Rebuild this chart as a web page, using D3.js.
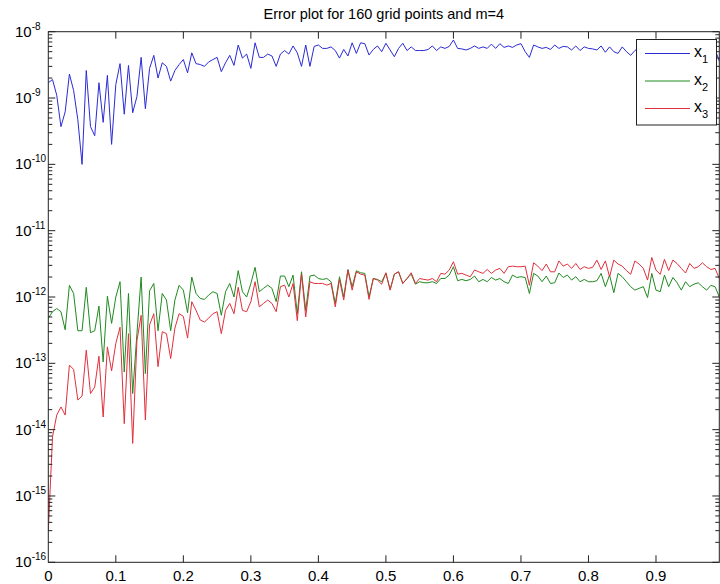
<!DOCTYPE html>
<html>
<head>
<meta charset="utf-8">
<script src="https://cdn.jsdelivr.net/npm/d3@7/dist/d3.min.js"></script>
<style>
  body { margin: 0; background: #fff; }
  text { font-family: "Liberation Sans", Arial, Helvetica, sans-serif; fill: #000; }
</style>
</head>
<body>
<div id="chart"></div>
<script>
const chart_title = "Error plot for 160 grid points and m=4";
const grid_points = 160;

const x_ticks = [0, 0.1, 0.2, 0.3, 0.4, 0.5, 0.6, 0.7, 0.8, 0.9];
const x_tick_labels = ["0", "0.1", "0.2", "0.3", "0.4", "0.5", "0.6", "0.7", "0.8", "0.9"];
const y_exponents = [-16, -15, -14, -13, -12, -11, -10, -9, -8];

const legend_names = ["1", "2", "3"];
const legend_colors = ["#2a2ad6", "#1f8a1f", "#e0303c"];

// error of x1, in units of 1e-9
const x1_err = [
  1.7, 1.9, 1.1, 0.37, 0.62, 2.3, 1.3, 0.47, 0.10, 2.6,
  0.37, 0.27, 1.7, 0.43, 2.2, 0.20, 1.6, 3.3, 0.57, 3.1,
  0.60, 1.05, 4.1, 0.69, 2.8, 4.4, 2.0, 3.4, 3.0, 1.8,
  2.6, 3.2, 3.8, 2.4, 4.8, 3.3, 3.2, 3.0, 3.5, 3.8,
  4.1, 2.5, 3.4, 4.4, 3.1, 6.3, 4.0, 4.6, 2.8, 6.8,
  4.1, 4.1, 4.6, 4.3, 3.0, 4.6, 5.2, 4.6, 6.1, 4.8,
  3.0, 6.3, 3.0, 6.0, 6.3, 5.6, 5.6, 5.9, 5.2, 4.0,
  5.4, 4.3, 6.8, 4.7, 6.8, 6.6, 4.45, 5.4, 6.1, 5.0,
  6.7, 5.3, 4.2, 5.6, 6.7, 5.2, 5.9, 5.2, 5.2, 5.2,
  5.4, 6.1, 5.2, 5.9, 5.6, 6.0, 7.5, 5.6, 5.5, 5.3,
  5.6, 6.1, 5.6, 5.9, 5.6, 6.5, 5.6, 6.6, 5.8, 6.1,
  5.8, 6.3, 6.6, 5.0, 4.1, 6.3, 5.9, 5.6, 5.8, 5.4,
  6.3, 5.6, 6.0, 5.9, 5.3, 6.1, 5.2, 5.9, 5.6, 5.5,
  5.3, 6.1, 4.9, 5.9, 5.0, 4.7, 5.9, 5.0, 4.4, 5.2,
  5.8, 5.0, 6.0, 5.4, 5.7, 5.1, 5.9, 5.3, 5.6, 5.0,
  5.8, 5.4, 5.6, 5.2, 5.9, 5.3, 5.6, 5.1, 5.4, 3.6
];

// error of x2, in units of 1e-12
const x2_err = [
  0.48, 0.60, 0.67, 0.60, 0.32, 1.5, 1.13, 0.31, 0.31, 1.4,
  0.29, 0.31, 0.73, 0.105, 1.03, 0.40, 1.0, 1.7, 0.074, 1.13,
  0.035, 0.28, 2.0, 0.07, 1.24, 1.6, 0.31, 1.13, 0.9, 0.31,
  0.9, 1.5, 1.27, 0.58, 2.0, 1.13, 0.95, 0.92, 1.07, 1.2,
  1.13, 0.53, 1.2, 1.6, 1.0, 2.5, 1.2, 1.0, 1.6, 2.8,
  1.2, 1.35, 1.51, 1.35, 0.85, 2.07, 2.07, 1.43, 2.14, 0.56,
  2.4, 0.63, 2.07, 2.14, 1.9, 1.84, 1.9, 1.7, 0.8, 2.02,
  1.0, 2.6, 1.43, 2.49, 2.32, 2.27, 1.0, 1.9, 1.84, 1.7,
  2.27, 1.3, 2.21, 2.4, 1.6, 1.9, 2.21, 1.56, 1.7, 1.64,
  1.64, 1.7, 1.6, 1.9, 1.9, 2.14, 2.86, 1.76, 1.84, 1.76,
  1.84, 2.07, 1.7, 1.84, 1.7, 1.97, 1.8, 1.9, 1.7, 1.6,
  2.14, 1.97, 2.02, 1.97, 1.13, 2.27, 2.07, 1.7, 2.07, 1.6,
  1.64, 2.3, 1.97, 2.14, 1.8, 2.02, 1.7, 1.84, 1.7, 1.7,
  1.76, 2.27, 1.43, 2.14, 1.16, 2.27, 2.02, 1.7, 1.43, 1.27,
  1.35, 1.43, 0.98, 2.27, 1.27, 1.2, 2.14, 1.43, 1.97, 1.64,
  1.27, 1.7, 1.43, 1.56, 1.64, 1.43, 1.27, 1.5, 1.43, 1.0
];

// error of x3, in units of 1e-12
const x3_err = [
  0.0003, 0.0078, 0.0166, 0.022, 0.0166, 0.094, 0.081, 0.028, 0.032, 0.158,
  0.035, 0.044, 0.128, 0.0155, 0.177, 0.077, 0.20, 0.35, 0.0123, 0.28,
  0.0062, 0.22, 0.53, 0.014, 0.38, 0.56, 0.089, 0.30, 0.28, 0.118,
  0.34, 0.56, 0.51, 0.24, 0.85, 0.63, 0.45, 0.42, 0.48, 0.56,
  0.60, 0.28, 0.63, 0.80, 0.56, 1.4, 0.63, 0.6, 0.85, 1.7,
  0.71, 0.8, 0.9, 0.8, 0.6, 1.43, 1.51, 1.0, 1.6, 0.44,
  2.21, 0.5, 1.7, 1.6, 1.6, 1.6, 1.51, 1.6, 0.71, 1.84,
  0.9, 2.55, 1.27, 2.4, 2.21, 2.14, 0.92, 1.9, 1.8, 1.56,
  2.32, 1.27, 2.21, 2.4, 1.6, 1.9, 2.32, 1.6, 1.9, 1.84,
  1.8, 1.9, 1.7, 2.27, 2.21, 2.55, 3.4, 2.21, 2.27, 2.14,
  2.02, 2.55, 2.4, 2.27, 2.6, 2.27, 2.55, 2.7, 2.27, 2.86,
  2.92, 2.86, 2.86, 2.92, 1.5, 3.28, 2.92, 2.5, 3.14, 2.4,
  2.4, 3.5, 2.92, 3.14, 2.7, 3.2, 2.6, 2.86, 2.7, 2.8,
  3.6, 2.6, 3.5, 2.02, 3.6, 3.14, 2.92, 2.5, 2.2, 3.5,
  3.14, 2.7, 1.8, 3.95, 2.55, 2.2, 3.7, 2.5, 3.6, 3.2,
  2.7, 2.3, 3.2, 2.7, 2.86, 3.28, 2.86, 2.6, 2.7, 1.9
];

let width = 720, height = 584;
let margins = {l: 48.3, r: 0.7, t: 31.7, b: 21.7};
let axis_color = "#222";

let series = [
  x1_err.map(v => v * 1e-9),
  x2_err.map(v => v * 1e-12),
  x3_err.map(v => v * 1e-12)
];

let svg = d3.select("#chart").append("svg")
            .attr("width", width)
            .attr("height", height);

let xScale = d3.scaleLinear()
               .domain([0, (grid_points - 1) / grid_points])
               .range([margins.l, width - margins.r]);
let yScale = d3.scaleLog()
               .domain([1e-16, 1e-8])
               .range([height - margins.b, margins.t]);

let [x0, x1] = xScale.range();
let [y0, y1] = yScale.range();

svg.append("clipPath").attr("id", "plot_clip")
   .append("rect").attr("x", x0).attr("y", y1)
   .attr("width", x1 - x0).attr("height", y0 - y1);

// data lines
let line = d3.line()
             .x((d, i) => xScale(i / grid_points))
             .y(d => yScale(d));

svg.append("g").attr("clip-path", "url(#plot_clip)")
   .selectAll("path")
   .data(series)
   .join("path")
   .attr("d", line)
   .attr("fill", "none")
   .attr("stroke", (d, i) => legend_colors[i])
   .attr("stroke-width", 1);

// axes: box with inward ticks on all four sides
let axes_g = svg.append("g").attr("stroke", axis_color).attr("stroke-width", 1);

axes_g.append("rect")
      .attr("x", x0).attr("y", y1)
      .attr("width", x1 - x0).attr("height", y0 - y1)
      .attr("fill", "none");

let major_len = 7, minor_len = 4;

axes_g.selectAll("line.xtick")
      .data(x_ticks.filter(t => t > 0))
      .join(enter => {
        let g = enter.append("g");
        g.append("line").attr("x1", d => xScale(d)).attr("x2", d => xScale(d))
         .attr("y1", y0).attr("y2", y0 - major_len);
        g.append("line").attr("x1", d => xScale(d)).attr("x2", d => xScale(d))
         .attr("y1", y1).attr("y2", y1 + major_len);
        return g;
      });

let minor_vals = [];
y_exponents.slice(0, -1).forEach(e => {
  for (let k = 2; k <= 9; k++) minor_vals.push(k * Math.pow(10, e));
});

axes_g.selectAll("g.ymajor")
      .data(y_exponents.map(e => Math.pow(10, e)))
      .join(enter => {
        let g = enter.append("g").attr("class", "ymajor");
        g.append("line").attr("x1", x0).attr("x2", x0 + major_len)
         .attr("y1", d => yScale(d)).attr("y2", d => yScale(d));
        g.append("line").attr("x1", x1).attr("x2", x1 - major_len)
         .attr("y1", d => yScale(d)).attr("y2", d => yScale(d));
        return g;
      });

axes_g.selectAll("g.yminor")
      .data(minor_vals)
      .join(enter => {
        let g = enter.append("g").attr("class", "yminor");
        g.append("line").attr("x1", x0).attr("x2", x0 + minor_len)
         .attr("y1", d => yScale(d)).attr("y2", d => yScale(d));
        g.append("line").attr("x1", x1).attr("x2", x1 - minor_len)
         .attr("y1", d => yScale(d)).attr("y2", d => yScale(d));
        return g;
      });

// tick labels
svg.append("g").selectAll("text")
   .data(x_ticks)
   .join("text")
   .attr("x", d => xScale(d))
   .attr("y", y0 + 19)
   .attr("text-anchor", "middle")
   .attr("font-size", 15)
   .text((d, i) => x_tick_labels[i]);

let ylab = svg.append("g").selectAll("text")
   .data(y_exponents)
   .join("text")
   .attr("x", 15)
   .attr("y", d => yScale(Math.pow(10, d)) + 5)
   .attr("font-size", 15);
ylab.append("tspan").text("10");
ylab.append("tspan").attr("font-size", 10).attr("dy", -7).text(d => String(d));

// title
svg.append("text")
   .attr("x", (x0 + x1) / 2)
   .attr("y", 19)
   .attr("text-anchor", "middle")
   .attr("font-size", 14.5)
   .text(chart_title);

// legend
let legend = svg.append("g").attr("transform", "translate(636.5, 39.5)");
legend.append("rect")
      .attr("width", 80).attr("height", 85.5)
      .attr("fill", "#fff").attr("stroke", axis_color);
let entries = legend.selectAll("g")
      .data(legend_names)
      .join("g")
      .attr("transform", (d, i) => `translate(0, ${14 + i * 27.5})`);
entries.append("line")
       .attr("x1", 8.5).attr("x2", 53.5)
       .attr("stroke", (d, i) => legend_colors[i])
       .attr("stroke-width", 1);
let ltext = entries.append("text").attr("x", 57.5).attr("y", 3.5).attr("font-size", 16);
ltext.append("tspan").text("x");
ltext.append("tspan").attr("font-size", 11).attr("dy", 6).text(d => d);
</script>
</body>
</html>
